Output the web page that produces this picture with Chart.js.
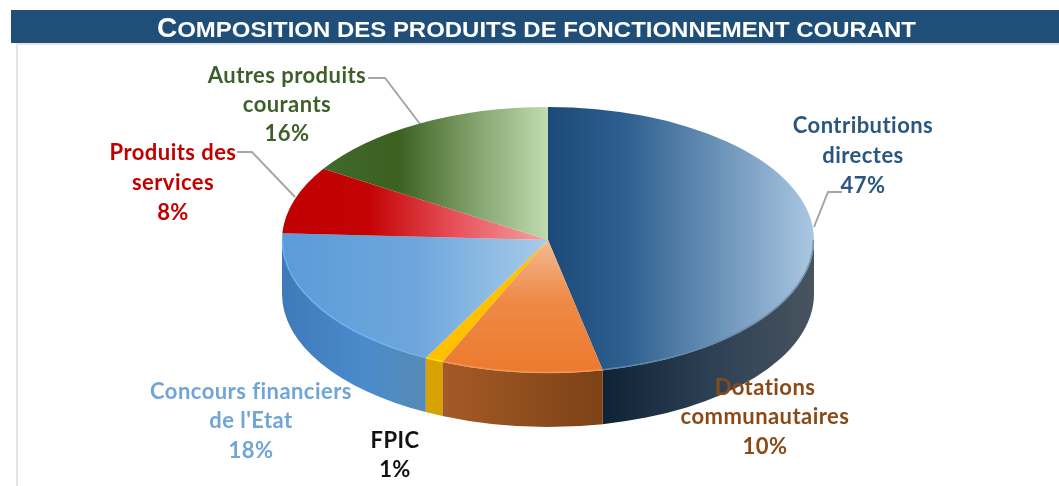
<!DOCTYPE html>
<html><head><meta charset="utf-8">
<style>html,body{margin:0;padding:0;background:#fff}#w{width:1059px;height:486px;position:relative}canvas{display:block}</style>
<script src="https://cdn.jsdelivr.net/npm/chart.js@4"></script>
</head><body><div id="w"><canvas id="c" width="1059" height="486"></canvas></div>
<script>
const titleFirst = "C";
const titleRest = "OMPOSITION DES PRODUITS DE FONCTIONNEMENT COURANT";
const categories = ["Contributions directes","Dotations communautaires","FPIC","Concours financiers de l'Etat","Produits des services","Autres produits courants"];
const values = [46.7,9.8,1.1,18.2,8.2,16.0];
const percentLabels = ["47%","10%","1%","18%","8%","16%"];
const labelLines = [["Contributions","directes"],["Dotations","communautaires"],["FPIC"],["Concours financiers","de l'Etat"],["Produits des","services"],["Autres produits","courants"]];

// Style / layout
const CX=548, CY=240, RX=266, RY=133, DEPTH=54;
const topFills=[
 {x:[548,815],stops:[[0,'#1c4a78'],[0.3,'#2f6090'],[1,'#abc8e3']]},
 {y:[240,372],stops:[[0,'#f3bb94'],[0.45,'#ee8a47'],[1,'#ec7a2e']]},
 {x:[425,548],stops:[[0,'#ffc000'],[1,'#ffc000']]},
 {x:[282,548],stops:[[0,'#5b9bd8'],[0.5,'#6ea6dc'],[1,'#a8cbea']]},
 {x:[282,548],stops:[[0,'#c00000'],[0.33,'#c40404'],[0.65,'#e8505a'],[1,'#f4a5a5']]},
 {x:[327,548],stops:[[0,'#41682b'],[0.32,'#3b6020'],[0.65,'#7f9f69'],[1,'#c0dcb0']]}
];
const wallFills=[
 {x:[603,815],stops:[[0,'#0f2236'],[0.5,'#2c4054'],[1,'#48545f']]},
 {x:[442,603],stops:[[0,'#a55a26'],[1,'#7c4216']]},
 {x:[424,442],stops:[[0,'#d8a300'],[1,'#d8a300']]},
 {x:[282,442],stops:[[0,'#3f7ab8'],[0.5,'#4a8bcc'],[1,'#5a8ab0']]},
 {x:[0,1],stops:[[0,'#800000'],[1,'#800000']]},
 {x:[0,1],stops:[[0,'#2a421a'],[1,'#2a421a']]}
];
const rimColors=['#6d8aa6','#f2995c','#ffe600','#6fb2f2','#c00000','#385723'];
const labelStyle=[
 {x:863,y:[126,156,186],c:'#2a5680'},
 {x:765,y:[388,417,447],c:'#8a4a18'},
 {x:395,y:[441,470],c:'#111111'},
 {x:251,y:[392,421,451],c:'#70a5d8'},
 {x:173,y:[153,183,213],c:'#c00000'},
 {x:287,y:[76,105,134],c:'#3f5f2a'}
];
const leaders=[
 [[842,192],[828,192],[814,227]],
 [[368,78],[385,78],[420,124]],
 [[237,152],[252,152],[295,197]]
];
function mapping(chart){
 const a=chart.chartArea, ccx=(a.left+a.right)/2, ccy=(a.top+a.bottom)/2, R=Math.min(a.right-a.left,a.bottom-a.top)/2;
 return {ccx,ccy,sx:RX/R,sy:RY/R};
}
function grad(ctx,f,chart){
 let g;
 if(chart){
  const m=mapping(chart);
  g=f.x?ctx.createLinearGradient(m.ccx+(f.x[0]-CX)/m.sx,0,m.ccx+(f.x[1]-CX)/m.sx,0)
       :ctx.createLinearGradient(0,m.ccy+(f.y[0]-CY)/m.sy,0,m.ccy+(f.y[1]-CY)/m.sy);
 } else g=ctx.createLinearGradient(f.x[0],0,f.x[1],0);
 f.stops.forEach(s=>g.addColorStop(s[0],s[1]));
 return g;
}
const pie3d={
 id:'pie3d',
 beforeDatasetsDraw(chart){
  const ctx=chart.ctx, meta=chart.getDatasetMeta(0);
  // banner
  ctx.save();
  ctx.fillStyle='#1f4e79'; ctx.fillRect(11,10,1048,33);
  ctx.strokeStyle='#dcdcdc'; ctx.lineWidth=1.5;
  ctx.beginPath(); ctx.moveTo(17,486); ctx.lineTo(17,44); ctx.lineTo(1059,44); ctx.stroke();
  ctx.restore();
  // leaders
  ctx.save(); ctx.strokeStyle='#a6a6a6'; ctx.lineWidth=2;
  leaders.forEach(l=>{ctx.beginPath();l.forEach((p,i)=>i?ctx.lineTo(p[0],p[1]):ctx.moveTo(p[0],p[1]));ctx.stroke();});
  ctx.restore();
  // walls from arc angles
  meta.data.forEach((arc,i)=>{
   const p=arc.getProps(['startAngle','endAngle'],true);
   const a=Math.max(p.startAngle,0), b=Math.min(p.endAngle,Math.PI);
   if(b<=a) return;
   ctx.save();
   ctx.beginPath();
   ctx.ellipse(CX,CY,RX,RY,0,a,b);
   ctx.ellipse(CX,CY+DEPTH,RX,RY,0,b,a,true);
   ctx.closePath();
   ctx.fillStyle=grad(ctx,wallFills[i]);
   ctx.fill();
   ctx.restore();
  });
  const m=mapping(chart);
  ctx.save();
  ctx.translate(CX,CY); ctx.scale(m.sx,m.sy); ctx.translate(-m.ccx,-m.ccy);
 },
 afterDatasetsDraw(chart){
  const ctx=chart.ctx, meta=chart.getDatasetMeta(0);
  ctx.restore();
  // rim highlight along the front of the top face
  meta.data.forEach((arc,i)=>{
   const p=arc.getProps(['startAngle','endAngle'],true);
   const a=Math.max(p.startAngle,0), b=Math.min(p.endAngle,Math.PI);
   if(b<=a) return;
   ctx.save();
   ctx.strokeStyle=rimColors[i]; ctx.lineWidth=1.5; ctx.globalAlpha=0.85;
   ctx.beginPath(); ctx.ellipse(CX,CY,RX-0.5,RY-0.5,0,a,b); ctx.stroke();
   ctx.restore();
  });
  // title
  ctx.save();
  ctx.fillStyle='#ffffff'; ctx.textBaseline='alphabetic'; ctx.textAlign='left';
  ctx.font='bold 28px "Liberation Sans"'; const w1=ctx.measureText(titleFirst).width;
  ctx.font='bold 22px "Liberation Sans"'; const w2=ctx.measureText(titleRest).width;
  const target=759, k=(target-w1)/w2;
  ctx.font='bold 28px "Liberation Sans"'; ctx.fillText(titleFirst,157,37);
  ctx.save(); ctx.translate(157+w1,37); ctx.scale(k,1);
  ctx.font='bold 22px "Liberation Sans"'; ctx.fillText(titleRest,0,0);
  ctx.restore(); ctx.restore();
  // labels
  ctx.save();
  ctx.font='bold 22px Lato'; ctx.letterSpacing='0.45px'; ctx.textAlign='center'; ctx.textBaseline='middle';
  labelLines.forEach((ls,i)=>{
   const s=labelStyle[i]; ctx.fillStyle=s.c;
   ls.concat([percentLabels[i]]).forEach((t,j)=>ctx.fillText(t,s.x,s.y[j]));
  });
  ctx.restore();
 }
};
new Chart(document.getElementById('c'),{
 type:'pie',
 data:{labels:categories,datasets:[{data:values,clip:false,borderWidth:0,
  backgroundColor:(c)=>{ if(!c.chart.chartArea) return '#888'; return grad(c.chart.ctx,topFills[c.dataIndex],c.chart); }}]},
 options:{responsive:false,animation:false,layout:{padding:{left:37}},
  plugins:{legend:{display:false},tooltip:{enabled:false},title:{display:false}}},
 plugins:[pie3d]
});
</script></body></html>
